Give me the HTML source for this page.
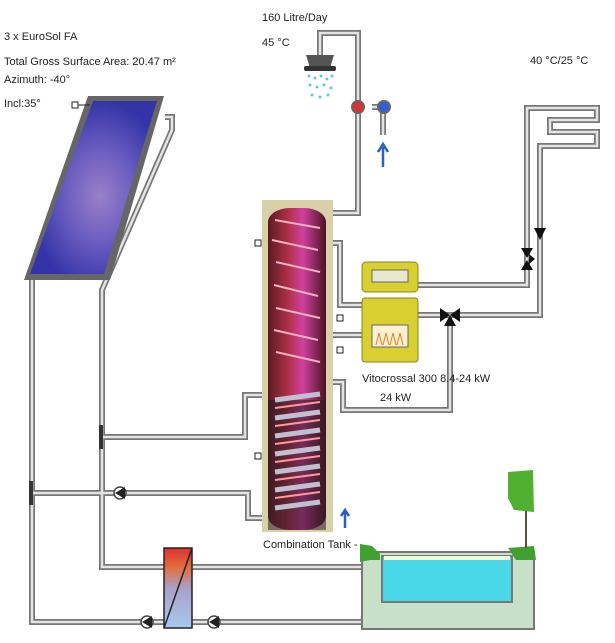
<!DOCTYPE html>
<html><head><style>
html,body{margin:0;padding:0;background:#fff}
svg{display:block}
text{font-family:"Liberation Sans",sans-serif;font-size:11px;fill:#222}
</style></head><body>
<svg width="615" height="643" viewBox="0 0 615 643" xmlns="http://www.w3.org/2000/svg">
<defs>
<radialGradient id="sol" cx="0.55" cy="0.55" r="0.55">
<stop offset="0" stop-color="#9a80c8"/><stop offset="0.5" stop-color="#6a5cc0"/><stop offset="1" stop-color="#3434a8"/>
</radialGradient>
<linearGradient id="tank" x1="0" y1="0" x2="1" y2="0">
<stop offset="0" stop-color="#5a1a22"/><stop offset="0.35" stop-color="#b03048"/><stop offset="0.6" stop-color="#d040a0"/><stop offset="1" stop-color="#4a1420"/>
</linearGradient>
<linearGradient id="hx" x1="0" y1="0" x2="0" y2="1">
<stop offset="0" stop-color="#e03030"/><stop offset="0.25" stop-color="#e07040"/><stop offset="0.5" stop-color="#a8a0c8"/><stop offset="1" stop-color="#a8c8f0"/>
</linearGradient>
<g id="pump"><circle r="6" fill="#fff" stroke="#444" stroke-width="1.5"/><path d="M5,-6 L-5,0 L5,6 Z" fill="#222"/></g>
</defs>

<!-- pipes -->
<g fill="none" stroke-linejoin="miter">
<g stroke="#777" stroke-width="6">
<path d="M165,117 L172,117 L172,130 L102,290 L102,567 L362,567"/>
<path d="M32,275 L32,622 L362,622"/>
<path d="M102,437 L245,437 L245,395 L275,395"/>
<path d="M32,493 L248,493 L248,518 L332,518"/>
<path d="M322,213 L358,213 L358,33 L320,33 L320,55"/>
<path d="M372,107 L383,107 L383,135"/>
<path d="M322,243 L340,243 L340,305 L362,305"/>
<path d="M322,335 L362,335"/>
<path d="M322,382 L343,382 L343,410 L450,410 L450,320"/>
<path d="M418,315 L540,315 L540,146 L597,146 L597,132 L550,132 L550,120 L597,120 L597,108 L527,108 L527,285 L418,285"/>
</g>
<g stroke="#e4e4e4" stroke-width="2.5">
<path d="M165,117 L172,117 L172,130 L102,290 L102,567 L362,567"/>
<path d="M32,275 L32,622 L362,622"/>
<path d="M102,437 L245,437 L245,395 L275,395"/>
<path d="M32,493 L248,493 L248,518 L332,518"/>
<path d="M322,213 L358,213 L358,33 L320,33 L320,55"/>
<path d="M372,107 L383,107 L383,135"/>
<path d="M322,243 L340,243 L340,305 L362,305"/>
<path d="M322,335 L362,335"/>
<path d="M322,382 L343,382 L343,410 L450,410 L450,320"/>
<path d="M418,315 L540,315 L540,146 L597,146 L597,132 L550,132 L550,120 L597,120 L597,108 L527,108 L527,285 L418,285"/>
</g>
</g>

<!-- collector -->
<polygon points="88,96 164,96 110,280 24,280" fill="#666"/>
<polygon points="93,101 157,101 104,274 30,274" fill="url(#sol)"/>
<rect x="72" y="102" width="6" height="6" fill="#fff" stroke="#222"/><line x1="78" y1="105" x2="90" y2="105" stroke="#222"/>

<!-- tees -->
<rect x="99" y="425" width="4" height="24" fill="#333"/>
<rect x="29" y="481" width="4" height="24" fill="#333"/>
<use href="#pump" x="120" y="493"/>
<use href="#pump" x="147" y="622"/>
<use href="#pump" x="214" y="622"/>

<!-- heat exchanger -->
<rect x="164" y="548" width="28" height="80" fill="url(#hx)" stroke="#222" stroke-width="1.5"/>
<line x1="164" y1="628" x2="192" y2="548" stroke="#222" stroke-width="1.5"/>

<!-- tank -->
<rect x="262" y="200" width="71" height="332" fill="#d8d0a8"/>
<rect x="268" y="208" width="58" height="322" rx="22" ry="14" fill="url(#tank)"/>
<rect x="268" y="400" width="58" height="130" fill="#2a1c24" opacity="0.55"/>
<g stroke="#f0b0c0" stroke-width="2">
<path d="M275,220 L320,228 M272,240 L318,250 M276,262 L320,272 M274,285 L318,296 M276,308 L320,318 M274,330 L318,340 M276,352 L320,362"/>
</g>
<g stroke="#c0c0d0" stroke-width="5">
<path d="M275,400 L320,394 M275,418 L320,412 M275,436 L320,430 M275,454 L320,448 M275,472 L320,466 M275,490 L320,484 M275,508 L320,502"/>
</g>
<g stroke="#ff9898" stroke-width="2">
<path d="M275,408 L320,402 M275,426 L320,420 M275,444 L320,438 M275,462 L320,456 M275,480 L320,474 M275,498 L320,492"/>
</g>
<g fill="#fff" stroke="#222">
<rect x="255" y="240" width="6" height="6"/><rect x="255" y="453" width="6" height="6"/>
<rect x="337" y="315" width="6" height="6"/><rect x="337" y="347" width="6" height="6"/>
</g>
<path d="M345,528 L345,512 M341,516 L345,510 L349,516" stroke="#2a60c0" stroke-width="2.5" fill="none"/>

<!-- boiler -->
<rect x="362" y="262" width="56" height="30" rx="4" fill="#d8d030" stroke="#8a8420"/>
<rect x="372" y="270" width="36" height="12" fill="#e8e8d0" stroke="#666"/>
<rect x="362" y="298" width="56" height="64" rx="3" fill="#d8d030" stroke="#8a8420"/>
<rect x="372" y="325" width="36" height="22" fill="#fff0d0" stroke="#666"/>
<path d="M376,345 l3,-12 l3,12 M383,345 l3,-12 l3,12 M390,345 l3,-12 l3,12 M397,345 l3,-12 l3,12" stroke="#e08020" fill="none"/>

<!-- valves -->
<path d="M440,308 L440,322 L450,315 Z M460,308 L460,322 L450,315 Z M444,326 L456,326 L450,315 Z" fill="#111"/>
<path d="M521,248 L533,248 L527,258 Z M521,270 L533,270 L527,260 Z M535,259 L529,254 L529,264 Z" fill="#111"/>
<path d="M534,228 L546,228 L540,240 Z" fill="#111"/>

<!-- shower -->
<path d="M306,55 L334,55 L330,68 L310,68 Z" fill="#555"/>
<rect x="304" y="66" width="32" height="5" rx="2" fill="#333"/>
<g fill="#60c8e0">
<circle cx="309" cy="76" r="1.5"/><circle cx="315" cy="78" r="1.5"/><circle cx="321" cy="76" r="1.5"/><circle cx="327" cy="79" r="1.5"/><circle cx="332" cy="76" r="1.5"/>
<circle cx="310" cy="85" r="1.5"/><circle cx="317" cy="87" r="1.5"/><circle cx="324" cy="85" r="1.5"/><circle cx="331" cy="88" r="1.5"/>
<circle cx="312" cy="95" r="1.5"/><circle cx="320" cy="97" r="1.5"/><circle cx="328" cy="95" r="1.5"/>
</g>
<circle cx="358" cy="107" r="6" fill="#e03030" stroke="#666" stroke-width="2"/>
<circle cx="384" cy="107" r="6" fill="#3060d0" stroke="#666" stroke-width="2"/>
<path d="M383,167 L383,147 M378,152 L383,144 L388,152" stroke="#2a60c0" stroke-width="2.5" fill="none"/>

<!-- pool -->
<rect x="362" y="552" width="172" height="77" fill="#c8e0c8" stroke="#777" stroke-width="2"/>
<rect x="382" y="556" width="130" height="46" fill="#48d8e8" stroke="#777" stroke-width="2"/>
<rect x="384" y="556" width="126" height="4" fill="#f0f8d0"/>
<path d="M360,544 L372,546 L380,554 L380,560 L370,560 L360,562 Z" fill="#40a030"/>
<path d="M508,548 L534,546 L536,560 L516,560 L512,554 Z" fill="#40a030"/>
<line x1="526" y1="510" x2="526" y2="548" stroke="#553" stroke-width="2"/>
<path d="M508,472 L533,470 L534,512 L514,510 L508,498 Z" fill="#50b030"/>

<!-- labels -->
<text x="4" y="40">3 x EuroSol FA</text>
<text x="4" y="65">Total Gross Surface Area: 20.47 m²</text>
<text x="4" y="83">Azimuth: -40°</text>
<text x="4" y="107">Incl:35°</text>
<text x="262" y="21">160 Litre/Day</text>
<text x="262" y="46">45 °C</text>
<text x="530" y="64">40 °C/25 °C</text>
<text x="362" y="382">Vitocrossal 300  8.4-24 kW</text>
<text x="380" y="401">24 kW</text>
<text x="263" y="548">Combination Tank -</text>
</svg>
</body></html>
